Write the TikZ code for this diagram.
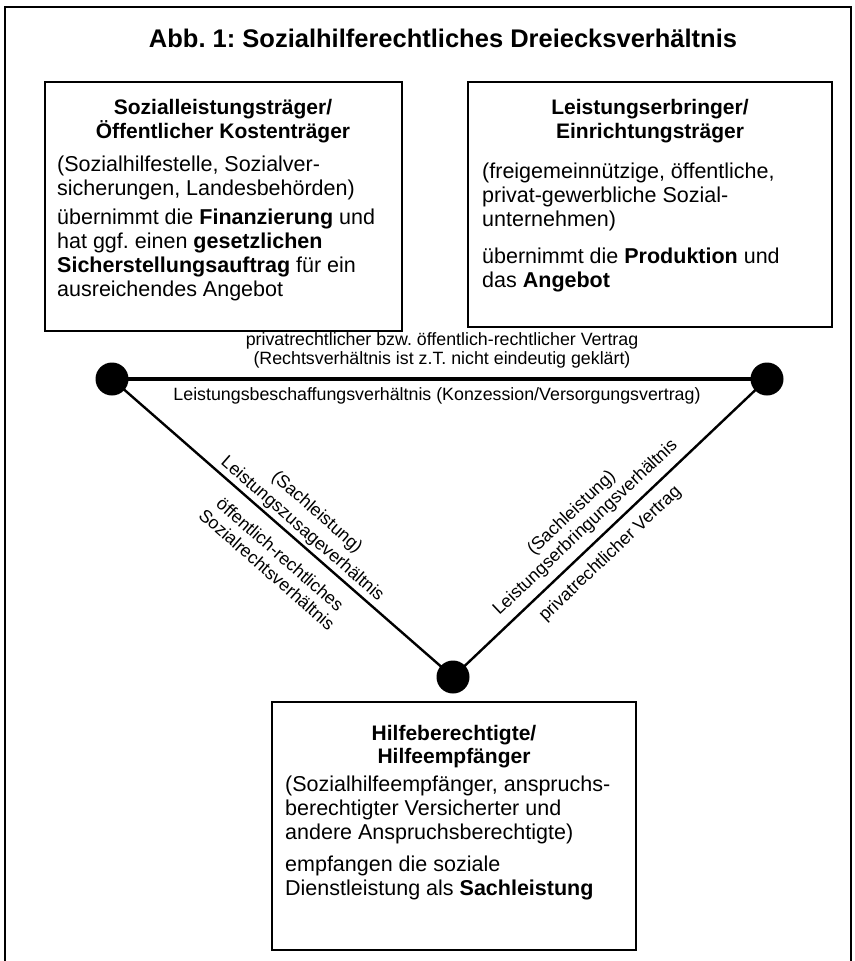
\documentclass[tikz,border=0pt]{standalone}
\usepackage{fontspec}
\setmainfont{Liberation Sans}
\frenchspacing
\begin{document}
\begin{tikzpicture}[x=1pt,y=-1pt,
  frame/.style={draw, line width=2pt},
  boxframe/.style={draw, line width=2.6pt},
  headtxt/.style={font={\fontsize{21}{24}\selectfont\bfseries}, anchor=mid, inner sep=0pt},
  bodytxt/.style={font={\fontsize{21.5}{24}\selectfont}, anchor=mid west, inner sep=0pt},
  lbl/.style={font={\fontsize{17.8}{20}\selectfont}, anchor=mid, inner sep=0pt},
  dot/.style={circle, fill=black, minimum size=33pt, inner sep=0pt},
  thickline/.style={line width=3.2pt},
  diagline/.style={line width=2.4pt}]
\useasboundingbox (0,0) rectangle (854,961);
\fill[white] (0,0) rectangle (854,961);
\draw[frame] (5,7) rectangle (851,975);

\node[font={\fontsize{25.5}{30}\selectfont\bfseries}, anchor=mid, inner sep=0pt] (title) at (443,45) {Abb. 1: Sozialhilferechtliches Dreiecksverhältnis};

% boxes
\draw[boxframe] (45,82) rectangle (402,331);
\draw[boxframe] (468,82) rectangle (832,327);
\draw[boxframe] (272,702) rectangle (636,950);

% left box
\node[headtxt] (lh1) at (223,112) {Sozialleistungsträger/};
\node[headtxt] (lh2) at (223,136) {Öffentlicher Kostenträger};
\node[bodytxt] (lb1) at (57,169) {(Sozialhilfestelle, Sozialver-};
\node[bodytxt] (lb2) at (57,193) {sicherungen, Landesbehörden)};
\node[bodytxt] (lb3) at (57,222) {übernimmt die \textbf{Finanzierung} und};
\node[bodytxt] (lb4) at (57,246) {hat ggf. einen \textbf{gesetzlichen}};
\node[bodytxt] (lb5) at (57,270) {\textbf{Sicherstellungsauftrag} für ein};
\node[bodytxt] (lb6) at (57,294) {ausreichendes Angebot};

% right box
\node[headtxt] (rh1) at (650,112) {Leistungserbringer/};
\node[headtxt] (rh2) at (650,136) {Einrichtungsträger};
\node[bodytxt] (rb1) at (482,176) {(freigemeinnützige, öffentliche,};
\node[bodytxt] (rb2) at (482,200) {privat-gewerbliche Sozial-};
\node[bodytxt] (rb3) at (482,224) {unternehmen)};
\node[bodytxt] (rb4) at (482,261) {übernimmt die \textbf{Produktion} und};
\node[bodytxt] (rb5) at (482,285) {das \textbf{Angebot}};

% bottom box
\node[headtxt] (bh1) at (454,738) {Hilfeberechtigte/};
\node[headtxt] (bh2) at (454,761) {Hilfeempfänger};
\node[bodytxt] (bb1) at (285,789) {(Sozialhilfeempfänger, anspruchs-};
\node[bodytxt] (bb2) at (285,813) {berechtigter Versicherter und};
\node[bodytxt] (bb3) at (285,837) {andere Anspruchsberechtigte)};
\node[bodytxt] (bb4) at (285,869) {empfangen die soziale};
\node[bodytxt] (bb5) at (285,893) {Dienstleistung als \textbf{Sachleistung}};

% triangle
\node[dot] (L) at (112,379) {};
\node[dot] (R) at (767,379) {};
\node[dot] (B) at (453,677) {};
\draw[thickline] (L.center) -- (R.center);
\draw[diagline] (L.center) -- (B.center);
\draw[diagline] (B.center) -- (R.center);

% top line labels
\node[lbl] (t1) at (442,343) {privatrechtlicher bzw. öffentlich-rechtlicher Vertrag};
\node[lbl] (t2) at (442,362) {(Rechtsverhältnis ist z.T. nicht eindeutig geklärt)};
\node[lbl] (t3) at (437,398) {Leistungsbeschaffungsverhältnis (Konzession/Versorgungsvertrag)};

% left diagonal labels
\node[lbl, rotate=-41.2] (ld1) at (315.3,514.1) {(Sachleistung)};
\node[lbl, rotate=-41.2] (ld2) at (300.8,530.7) {Leistungszusageverhältnis};
\node[lbl, rotate=-41.2] (ld3) at (277.8,557.0) {öffentlich-rechtliches};
\node[lbl, rotate=-41.2] (ld4) at (264.6,572.1) {Sozialrechtsverhältnis};

% right diagonal labels
\node[lbl, rotate=43.5] (rd1) at (573.2,514.7) {(Sachleistung)};
\node[lbl, rotate=43.5] (rd2) at (587.0,529.2) {Leistungserbringungsverhältnis};
\node[lbl, rotate=43.5] (rd3) at (611.7,555.3) {privatrechtlicher Vertrag};
\end{tikzpicture}
\end{document}
